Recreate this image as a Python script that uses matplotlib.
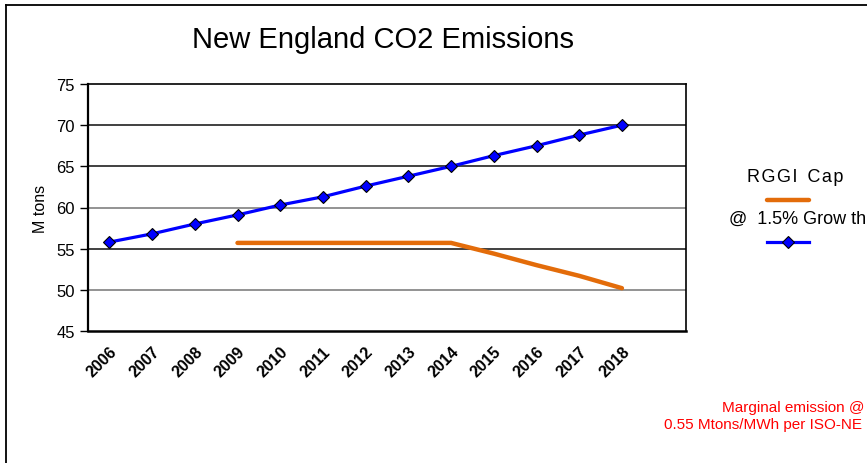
import matplotlib
matplotlib.use("Agg")
import matplotlib.pyplot as plt
from matplotlib.lines import Line2D

plt.rcParams['font.family'] = ['Liberation Sans', 'DejaVu Sans']

years = ["2006", "2007", "2008", "2009", "2010", "2011", "2012",
         "2013", "2014", "2015", "2016", "2017", "2018"]
growth = [55.8, 56.8, 58.0, 59.1, 60.3, 61.3, 62.6, 63.8, 65.0, 66.3, 67.5, 68.8, 70.0]
cap_years = ["2009", "2010", "2011", "2012", "2013", "2014", "2015", "2016", "2017", "2018"]
cap = [55.7, 55.7, 55.7, 55.7, 55.7, 55.7, 54.4, 53.0, 51.7, 50.2]
y_ticks = [45, 50, 55, 60, 65, 70, 75]

BLUE = "#0000ff"
ORANGE = "#e36c0a"

W, H = 867, 464
fig = plt.figure(figsize=(W / 100, H / 100), dpi=100)
ax = fig.add_axes([88 / W, 1 - 332 / H, (686 - 88) / W, (332 - 85) / H])

xpos = {y: i for i, y in enumerate(years)}
ax.plot([xpos[y] for y in cap_years], cap, color=ORANGE, lw=3.2,
        solid_capstyle="round", zorder=3)
ax.plot(range(len(years)), growth, color=BLUE, lw=2.3, marker="D",
        markersize=6.5, markerfacecolor=BLUE, markeredgecolor="black",
        markeredgewidth=0.8, zorder=4)

ax.set_xlim(-0.5, len(years) + 0.5)
ax.set_ylim(45, 75)
ax.set_yticks(y_ticks)
ax.set_yticklabels([str(v) for v in y_ticks], fontsize=12)
ax.set_xticks(range(len(years)))
ax.set_xticklabels(years, rotation=45, ha="right", rotation_mode="anchor",
                   fontsize=11.5, fontweight="bold")
ax.tick_params(axis="x", length=0, pad=9)
ax.tick_params(axis="y", length=5.5, width=1, direction="out", pad=4)
ax.set_ylabel("M tons", fontsize=11.5, labelpad=6)

grid_colors = {50: "#808080", 55: "#202020", 60: "#808080", 65: "#202020", 70: "#202020"}
for v, c in grid_colors.items():
    ax.axhline(v, color=c, lw=1.2, zorder=1)

for s in ax.spines.values():
    s.set_color("black")
    s.set_linewidth(1.2)
ax.spines["left"].set_linewidth(1.6)
ax.spines["bottom"].set_linewidth(1.8)

fig.text(383 / W, 1 - 40 / H, "New England CO2 Emissions", fontsize=21,
         ha="center", va="center")

# legend block on the right
hs = "\u200a"
fig.text(795 / W, 1 - 178 / H, hs.join("RGGI") + "  " + hs.join("Cap"),
         fontsize=13, ha="center", va="center",
         family=["Liberation Sans", "DejaVu Sans"])
fig.add_artist(Line2D([767 / W, 809 / W], [1 - 201 / H, 1 - 201 / H],
                      color=ORANGE, lw=3.2, solid_capstyle="round"))
fig.text(729 / W, 1 - 219 / H, "@  1.5% Grow th", fontsize=13, ha="left", va="center")
fig.add_artist(Line2D([767 / W, 809 / W], [1 - 243 / H, 1 - 243 / H],
                      color=BLUE, lw=2.3))
fig.add_artist(Line2D([788 / W], [1 - 243 / H], color=BLUE, marker="D",
                      markersize=6.5, markerfacecolor=BLUE,
                      markeredgecolor="black", markeredgewidth=0.8))

fig.text(864 / W, 1 - 408 / H, "Marginal emission @", fontsize=11,
         color="red", ha="right", va="center")
fig.text(862 / W, 1 - 425 / H, "0.55 Mtons/MWh per ISO-NE", fontsize=11,
         color="red", ha="right", va="center")

# page frame: top and left edges
fig.add_artist(Line2D([6 / W, 1.0], [1 - 6 / H, 1 - 6 / H], color="black", lw=1.3))
fig.add_artist(Line2D([6 / W, 6 / W], [0.0, 1 - 6 / H], color="black", lw=1.3))

fig.savefig("out.png", dpi=100)
